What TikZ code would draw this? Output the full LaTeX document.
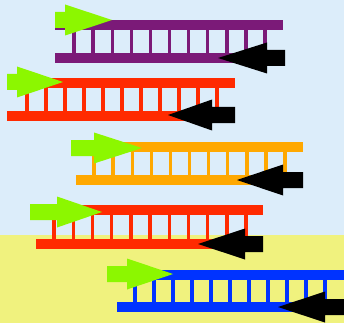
\documentclass[tikz,border=0pt]{standalone}
\definecolor{bgblue}{HTML}{DCEDFA}
\definecolor{bgyellow}{HTML}{F0F27E}
\definecolor{lpurple}{HTML}{7B1A78}
\definecolor{lred}{HTML}{FF2A00}
\definecolor{lorange}{HTML}{FFA800}
\definecolor{lblue}{HTML}{0033FF}
\definecolor{lgreen}{HTML}{8CF700}
\begin{document}
\begin{tikzpicture}[x=1pt,y=-1pt,
  primer/.style={fill=lgreen},
  revprimer/.style={fill=black}]
\useasboundingbox (0,0) rectangle (344,323);
\fill[bgblue] (0,0) rectangle (344,235);
\fill[bgyellow] (0,235) rectangle (344,323);
\foreach \colr/\yt/\yb/\tl/\tr/\bl/\br/\ra/\rb/\gx/\gbase/\gtip/\gy/\bx/\bbase/\btip/\by in {
  lpurple/20/53/55/283/55/285/74/265/55/65/112/20/285/267/218/58,
  lred/78/111/7/235/7/235/27/217/7/17/63/82/235/212/168/115,
  lorange/142/175/71/303/76/303/94/285/71/94/142/148/303/283/237/180,
  lred/205/239/40/263/36/263/54/246/30/57/102/212/263/245/198/244,
  lblue/270/302/107/350/117/350/135/325/107/127/173/274/350/325/278/307}{
  \fill[\colr] (\tl,\yt) rectangle (\tr,\yt+10);
  \fill[\colr] (\bl,\yb) rectangle (\br,\yb+10);
  \foreach \i in {0,...,10}
    \fill[\colr] ({\ra+\i*(\rb-\ra)/10-1.7},\yt+9) rectangle +(3.4,\yb-\yt-8);
  \fill[primer] (\gx,\gy-8) -- (\gbase,\gy-8) -- (\gbase,\gy-15.5) -- (\gtip,\gy)
    -- (\gbase,\gy+15.5) -- (\gbase,\gy+8) -- (\gx,\gy+8) -- cycle;
  \fill[revprimer] (\bx,\by-8) -- (\bbase,\by-8) -- (\bbase,\by-15.5) -- (\btip,\by)
    -- (\bbase,\by+15.5) -- (\bbase,\by+8) -- (\bx,\by+8) -- cycle;
}
\end{tikzpicture}
\end{document}
